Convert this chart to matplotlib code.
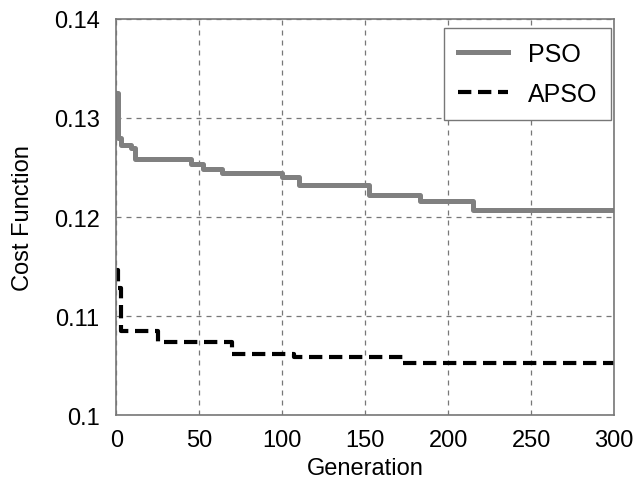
import matplotlib
matplotlib.use("Agg")
import matplotlib.pyplot as plt

plt.rcParams['font.family'] = ['Liberation Sans', 'DejaVu Sans']

# breakpoints of the best cost (step curves)
pso_gen = [0, 1, 3, 9, 11, 45, 52, 64, 100, 110, 152, 183, 215, 300]
pso_cost = [0.1325, 0.1280, 0.1273, 0.1270, 0.1259, 0.1254, 0.1248, 0.1244,
            0.1240, 0.1232, 0.1222, 0.1216, 0.1207, 0.1207]

apso_gen = [0, 1, 3, 25, 70, 107, 173, 300]
apso_cost = [0.1147, 0.1128, 0.1085, 0.1074, 0.1062, 0.1059, 0.1053, 0.1053]

x_ticks = [0, 50, 100, 150, 200, 250, 300]
y_ticks = [0.10, 0.11, 0.12, 0.13, 0.14]
y_labels = ['0.1', '0.11', '0.12', '0.13', '0.14']

fig = plt.figure(figsize=(6.39, 4.85), dpi=100)
ax = fig.add_axes([0.182, 0.142, 0.779, 0.817])

ax.plot(pso_gen, pso_cost, drawstyle='steps-post', color='#808080', lw=3.6,
        label='PSO')
ax.plot(apso_gen, apso_cost, drawstyle='steps-post', color='black', lw=3.0,
        dashes=(3.2, 1.6), label='APSO')

ax.set_xlim(0, 300)
ax.set_ylim(0.10, 0.14)
ax.set_xticks(x_ticks)
ax.set_yticks(y_ticks)
ax.set_yticklabels(y_labels)
ax.tick_params(labelsize=17, length=0)
ax.tick_params(axis='x', pad=10)
ax.tick_params(axis='y', pad=12)
ax.grid(True, color='#777777', lw=0.9, dashes=(4, 4))
for s in ax.spines.values():
    s.set_color('#777777')
    s.set_linewidth(1.2)

ax.set_xlabel('Generation', fontsize=17, labelpad=4)
ax.set_ylabel('Cost Function', fontsize=17, labelpad=14)

leg = ax.legend(loc='upper right', bbox_to_anchor=(0.994, 0.977), fontsize=18,
                fancybox=False, framealpha=1, edgecolor='#777777',
                handlelength=2.0, borderpad=0.55, labelspacing=0.65,
                borderaxespad=0)
leg.get_frame().set_linewidth(1.0)

fig.savefig('out.png', dpi=100)
